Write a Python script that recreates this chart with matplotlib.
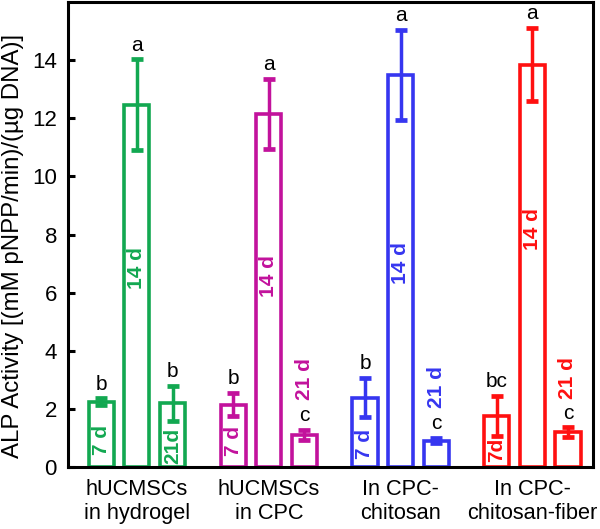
import matplotlib
matplotlib.use("Agg")
import matplotlib.pyplot as plt
import numpy as np

plt.rcParams['font.family'] = ['Liberation Sans', 'DejaVu Sans']

# ---- data ----
groups = ["hUCMSCs\nin hydrogel", "hUCMSCs\nin CPC", "In CPC-\nchitosan", "In CPC-\nchitosan-fiber"]
days = ["7 d", "14 d", "21 d"]
means = [
    [2.25, 12.47, 2.20],   # hUCMSCs in hydrogel
    [2.15, 12.15, 1.12],   # hUCMSCs in CPC
    [2.40, 13.50, 0.92],   # In CPC-chitosan
    [1.76, 13.85, 1.20],   # In CPC-chitosan-fiber
]
errs = [
    [0.12, 1.56, 0.60],
    [0.40, 1.20, 0.17],
    [0.67, 1.55, 0.08],
    [0.70, 1.25, 0.17],
]
letters = [
    ["b", "a", "b"],
    ["b", "a", "c"],
    ["b", "a", "c"],
    ["bc", "a", "c"],
]
bar_texts = [
    ["7 d", "14 d", "21d"],
    ["7 d", "14 d", "21 d"],
    ["7 d", "14 d", "21 d"],
    ["7d", "14 d", "21 d"],
]
yticks = [0, 2, 4, 6, 8, 10, 12, 14]

# ---- style / placement ----
colors = ["#12a851", "#c2129c", "#3636f0", "#ff1010"]
text_y = [
    [0.94, 6.86, 0.72],
    [0.90, 6.58, 3.04],
    [0.80, 7.03, 2.77],
    [0.60, 8.20, 3.07],
]
offsets = [-0.27, 0.0, 0.27]
width = 0.19

fig = plt.figure(figsize=(6.0, 5.29), dpi=100)
ax = fig.add_axes([68/600, 1-467.3/529, (593.3-68)/600, (467.3-2)/529])

for gi in range(len(groups)):
    c = colors[gi]
    for di in range(len(days)):
        x = gi + offsets[di]
        m = means[gi][di]
        e = errs[gi][di]
        ax.bar(x, m, width=width, facecolor="white", edgecolor=c, linewidth=2.6, zorder=2)
        ax.errorbar(x, m, yerr=e, fmt="none", ecolor=c, elinewidth=2.5,
                    capsize=4.0, capthick=3.4, zorder=3)
        ax.text(x, m + e + 0.3, letters[gi][di], ha="center", va="baseline",
                fontsize=15, color="black", zorder=4)
        ax.text(x, text_y[gi][di], bar_texts[gi][di], ha="center", va="center",
                rotation=90, fontsize=15, fontweight="bold", color=c, zorder=4)

ax.set_xlim(-0.523, 3.462)
ax.set_ylim(0, 16)
ax.set_yticks(yticks)
ax.set_yticklabels([str(v) for v in yticks])
ax.set_xticks(range(len(groups)))
ax.set_xticklabels(groups, fontsize=15.7, linespacing=1.15)
ax.tick_params(axis="y", direction="in", length=5, width=2.2, labelsize=16, pad=8)
ax.tick_params(axis="x", length=0, pad=8.5)
for s in ax.spines.values():
    s.set_linewidth(2.2)
    s.set_color("black")

fig.text(2/600, 1-246/529, "ALP Activity [(mM pNPP/min)/(\u00b5g DNA)]",
         rotation=90, ha="left", va="center", fontsize=17.3)

fig.savefig("out.png", dpi=100)
